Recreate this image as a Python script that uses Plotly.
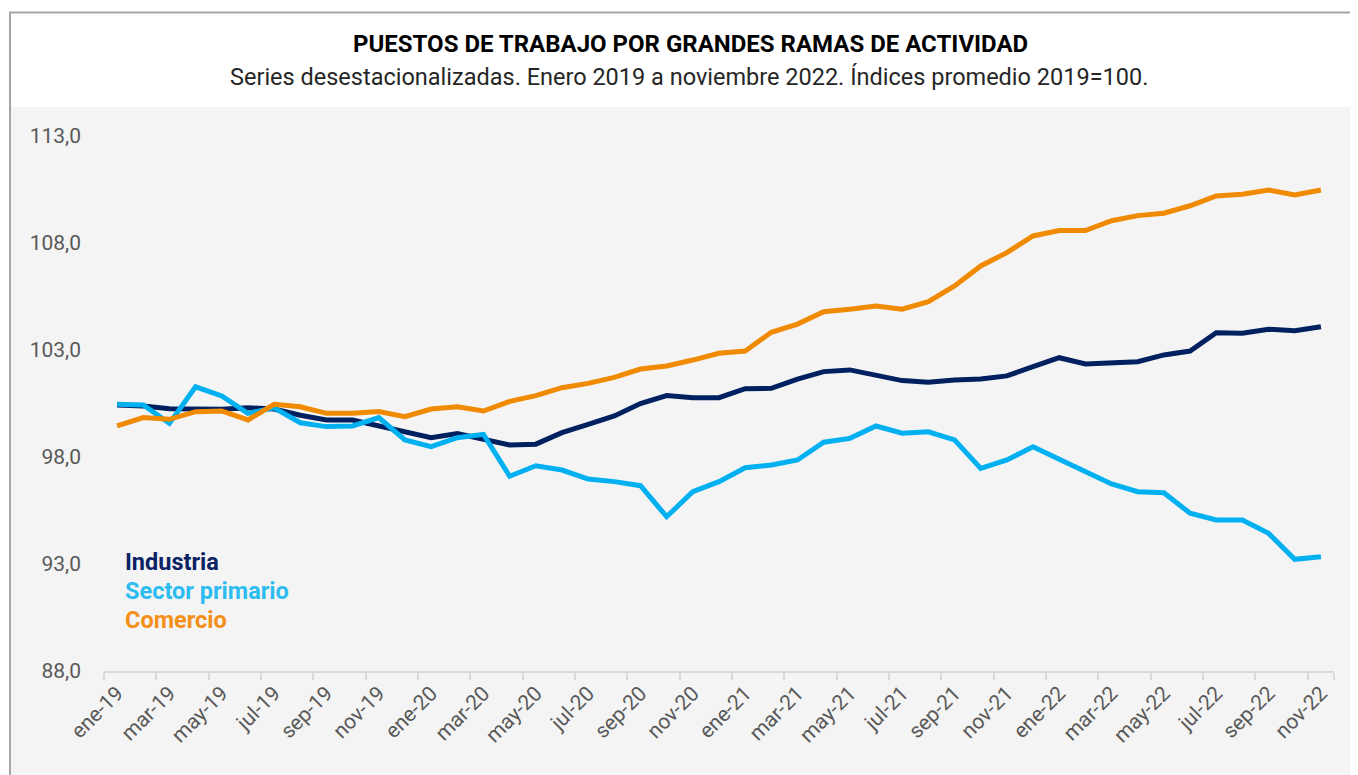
import plotly.graph_objects as go

MESES = ["ene", "feb", "mar", "abr", "may", "jun", "jul", "ago", "sep", "oct", "nov", "dic"]
meses = [f"{m}-{y}" for y in ["19", "20", "21", "22"] for m in MESES][:47]

industria = [100.43, 100.38, 100.25, 100.25, 100.23, 100.30, 100.24, 99.95, 99.73, 99.73,
             99.45, 99.18, 98.90, 99.10, 98.85, 98.56, 98.60, 99.14, 99.53, 99.92,
             100.50, 100.87, 100.77, 100.77, 101.19, 101.21, 101.64, 101.99, 102.07, 101.79,
             101.57, 101.49, 101.60, 101.64, 101.79, 102.22, 102.64, 102.35, 102.41, 102.45,
             102.77, 102.95, 103.81, 103.78, 103.97, 103.90, 104.09]

sector_primario = [100.46, 100.43, 99.57, 101.28, 100.85, 100.04, 100.30, 99.60, 99.42, 99.45,
                   99.84, 98.80, 98.48, 98.90, 99.06, 97.10, 97.59, 97.39, 96.97, 96.85,
                   96.66, 95.21, 96.38, 96.85, 97.50, 97.63, 97.86, 98.69, 98.87, 99.45,
                   99.11, 99.18, 98.80, 97.47, 97.86, 98.48, 97.89, 97.31, 96.74, 96.38,
                   96.33, 95.37, 95.06, 95.06, 94.43, 93.22, 93.34]

comercio = [99.45, 99.84, 99.76, 100.12, 100.15, 99.73, 100.46, 100.35, 100.04, 100.04,
            100.12, 99.88, 100.24, 100.35, 100.15, 100.60, 100.87, 101.24, 101.44, 101.72,
            102.11, 102.25, 102.53, 102.85, 102.95, 103.83, 104.21, 104.79, 104.90, 105.06,
            104.91, 105.26, 105.99, 106.93, 107.55, 108.33, 108.58, 108.58, 109.04, 109.28,
            109.39, 109.74, 110.20, 110.28, 110.48, 110.24, 110.48]

series_nombres = ["Industria", "Sector primario", "Comercio"]
colores = ["#002060", "#00b0f0", "#f08a00"]
colores_texto = ["#0b2265", "#2dbcf0", "#f39019"]

y_ticks = [88, 93, 98, 103, 108, 113]
x_ticks = meses[::2]

titulo = "PUESTOS DE TRABAJO POR GRANDES RAMAS DE ACTIVIDAD"
subtitulo = "Series desestacionalizadas. Enero 2019 a noviembre 2022. Índices promedio 2019=100."

# page body adds an 8px margin; work in screen pixels and shift
OFF = 8
W, H = 1358, 775
L, T = 104 - OFF, 136 - OFF
R = W - (1334 - OFF)
B = H - (671 - OFF)
pw, ph = W - L - R, H - T - B


def px(x):
    return (x - OFF - L) / pw


def py(y):
    return (H - B - (y - OFF)) / ph


fig = go.Figure()
for nombre, vals, col in zip(series_nombres, [industria, sector_primario, comercio], colores):
    fig.add_trace(go.Scatter(x=meses, y=vals, mode="lines", name=nombre,
                             line=dict(color=col, width=5)))

annots = []
for k, (nombre, col) in enumerate(zip(series_nombres, colores_texto)):
    annots.append(dict(xref="paper", yref="paper", x=px(123), y=py(562 + 29 * k),
                       xanchor="left", yanchor="middle", showarrow=False,
                       text=f"<b>{nombre}</b>",
                       font=dict(family="Roboto", size=23.5, color=col)))
annots.append(dict(xref="paper", yref="paper", x=px(690), y=py(44), xanchor="center",
                   yanchor="middle", showarrow=False, text=f"<b>{titulo}</b>",
                   font=dict(family="Roboto", size=24, color="#000000")))
annots.append(dict(xref="paper", yref="paper", x=px(689), y=py(77), xanchor="center",
                   yanchor="middle", showarrow=False, text=subtitulo,
                   font=dict(family="Roboto", size=23.5, color="#262626")))

shapes = [
    dict(type="rect", xref="paper", yref="paper", layer="below",
         x0=px(10), x1=px(1420), y0=py(107), y1=py(820),
         fillcolor="#f4f4f4", line=dict(width=0)),
    dict(type="rect", xref="paper", yref="paper", layer="above",
         x0=px(10), x1=px(1420), y0=py(12.5), y1=py(820),
         fillcolor="rgba(0,0,0,0)", line=dict(color="#a6a6a6", width=2)),
]

fig.update_layout(
    width=W, height=H,
    margin=dict(l=L, r=R, t=T, b=B),
    paper_bgcolor="#ffffff", plot_bgcolor="#f4f4f4",
    showlegend=False,
    separators=",.",
    annotations=annots, shapes=shapes,
    font=dict(family="Roboto", color="#595959"),
)
fig.update_xaxes(
    type="category", range=[-0.5, len(meses) - 0.5],
    tickmode="array", tickvals=x_ticks, ticktext=x_ticks,
    tickson="boundaries", ticks="outside", ticklen=7, tickcolor="#d9d9d9", tickwidth=1.5,
    showline=True, linecolor="#d9d9d9", linewidth=1.5,
    showgrid=False, zeroline=False, tickangle=-45,
    tickfont=dict(family="Roboto", size=21, color="#595959"),
)
fig.update_yaxes(
    range=[88, 113], tickmode="array", tickvals=y_ticks, tickformat=".1f",
    showgrid=False, zeroline=False, showline=False, ticks="",
    ticklabelstandoff=22,
    tickfont=dict(family="Roboto", size=21, color="#595959"),
)

fig.write_html("out.html")
